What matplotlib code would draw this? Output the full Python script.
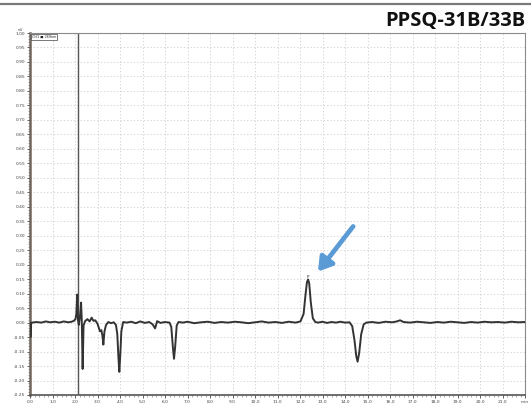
import matplotlib
matplotlib.use("Agg")
import matplotlib.pyplot as plt
import numpy as np

# ---- data ----
time_min = [0.00, 0.02, 0.05, 0.08, 0.3, 0.5, 0.7, 0.9, 1.1, 1.3, 1.5, 1.7, 1.85, 1.95,
            2.02, 2.06, 2.10, 2.13, 2.17, 2.22, 2.27, 2.30, 2.34, 2.38, 2.45, 2.55,
            2.65, 2.74, 2.82, 2.90, 3.00, 3.06, 3.11, 3.17, 3.22, 3.26, 3.31, 3.38,
            3.48, 3.60, 3.72, 3.82, 3.88, 3.93, 3.97, 4.01, 4.06, 4.14, 4.3, 4.5,
            4.7, 4.9, 5.1, 5.3, 5.45, 5.56, 5.65, 5.8, 6.0, 6.2, 6.28, 6.35, 6.40,
            6.45, 6.52, 6.6, 6.8, 7.0, 7.3, 7.6, 7.9, 8.2, 8.5, 8.8, 9.1, 9.4, 9.7,
            10.0, 10.3, 10.6, 10.9, 11.2, 11.5, 11.8, 12.02, 12.16, 12.25, 12.31,
            12.36, 12.41, 12.48, 12.57, 12.68, 12.8, 13.0, 13.2, 13.4, 13.6, 13.8,
            14.0, 14.2, 14.32, 14.42, 14.50, 14.56, 14.63, 14.72, 14.83, 14.95,
            15.2, 15.5, 15.8, 16.1, 16.3, 16.45, 16.6, 16.9, 17.2, 17.5, 17.8,
            18.1, 18.4, 18.7, 19.0, 19.3, 19.6, 19.9, 20.2, 20.5, 20.8, 21.1,
            21.4, 21.7, 22.0]
signal = [0.000, -0.050, -0.005, 0.000, 0.002, 0.000, 0.004, 0.001, 0.003, 0.000, 0.004, 0.001, 0.003, 0.006,
          0.012, 0.030, 0.097, 0.010, -0.008, 0.020, 0.069, 0.010, -0.160, -0.010, 0.005, 0.012,
          0.004, 0.017, 0.006, 0.008, -0.004, -0.018, -0.030, -0.026, -0.045, -0.076, -0.030, -0.008,
          0.002, -0.002, 0.001, -0.008, -0.040, -0.120, -0.170, -0.115, -0.030, 0.002, 0.000, 0.003,
          -0.002, 0.004, -0.001, 0.002, -0.006, -0.020, 0.005, -0.001, 0.002, 0.000, -0.015, -0.085, -0.125,
          -0.085, -0.010, 0.002, 0.000, 0.003, -0.002, 0.001, 0.003, -0.001, 0.002, 0.000, 0.003, 0.001, -0.002,
          0.001, 0.004, 0.000, 0.002, -0.001, 0.003, 0.000, 0.004, 0.030, 0.100, 0.140,
          0.149, 0.135, 0.070, 0.015, 0.002, 0.000, 0.003, -0.001, 0.002, 0.000, 0.003,
          0.000, 0.001, -0.012, -0.060, -0.115, -0.135, -0.105, -0.040, -0.006, 0.000,
          0.002, -0.001, 0.003, 0.001, 0.004, 0.008, 0.002, 0.000, 0.003, 0.001, -0.001,
          0.002, 0.000, 0.003, 0.001, -0.001, 0.002, 0.000, 0.003, 0.001, 0.002, 0.000,
          0.003, 0.001, 0.002]

marker_time = 2.13
peak_time = 12.36
peak_value = 0.149
x_ticks = list(range(0, 23))
x_tick_labels = [f"{v:.1f}" for v in x_ticks[:-1]] + ["min"]
y_ticks = [round(-0.25 + 0.05 * i, 2) for i in range(26)]
y_tick_labels = [f"{v:.2f}" for v in y_ticks]
title = "PPSQ-31B/33B"
legend_text = "CH1 ■ 269nm"

# ---- figure ----
fig = plt.figure(figsize=(5.31, 4.08), dpi=100)
ax = fig.add_axes([30 / 531, 1 - 395 / 408, (525 - 30) / 531, (395 - 33) / 408])

ax.plot(time_min, signal, color="#333333", lw=1.4, zorder=3)
ax.axvline(marker_time, color="#555555", lw=1.0, zorder=2)

ax.set_xlim(0, 22)
ax.set_ylim(-0.25, 1.00)
ax.set_xticks(x_ticks)
ax.set_xticklabels(x_tick_labels, fontsize=3.2)
ax.set_yticks(y_ticks)
ax.set_yticklabels(y_tick_labels, fontsize=3.2)
ax.set_xticks(np.arange(0, 22.01, 0.2), minor=True)
ax.set_yticks(np.arange(-0.25, 1.001, 0.01), minor=True)
ax.tick_params(axis="both", which="major", length=2.5, width=0.6, pad=1, colors="#444444")
ax.tick_params(axis="both", which="minor", length=1.2, width=0.4, colors="#666666")

ax.grid(True, which="major", color="#cccccc", lw=0.6, ls=(0, (1.5, 2.5)))
for side in ["top", "right"]:
    ax.spines[side].set_color("#8a8a8a")
    ax.spines[side].set_linewidth(0.8)
ax.spines["left"].set_color("#6e665c")
ax.spines["left"].set_linewidth(1.8)
ax.spines["bottom"].set_color("#555555")
ax.spines["bottom"].set_linewidth(1.2)

# unit label and channel box
ax.text(-0.55, 1.003, "mV", fontsize=2.3, color="#444444", ha="left", va="bottom",
        transform=ax.transData, clip_on=False)
ax.text(0.08, 0.993, legend_text, fontsize=2.4, color="#222222", ha="left", va="top",
        bbox=dict(boxstyle="square,pad=0.25", fc="white", ec="#444444", lw=0.5), zorder=5)

# peak marker label
ax.text(peak_time, peak_value + 0.003, "P", fontsize=3, color="#222222",
        ha="center", va="bottom", zorder=4)

# blue arrow pointing to peak
ax.annotate("", xy=(12.8, 0.176), xytext=(14.36, 0.332),
            arrowprops=dict(arrowstyle="-|>,head_length=0.8,head_width=0.5",
                            color="#5b9bd5", lw=3.4, shrinkA=0, shrinkB=0), zorder=6)

# top rule and title
fig.add_artist(plt.Line2D([0, 1], [1 - 3.5 / 408, 1 - 3.5 / 408], color="#7a7a7a", lw=1.6,
                          transform=fig.transFigure))
fig.text(525 / 531, 1 - 26 / 408, title, fontsize=14.5, fontweight="bold",
         family=["Open Sans", "DejaVu Sans"], ha="right", va="baseline", color="#111111")

fig.savefig("out.png", dpi=100, facecolor="white")
